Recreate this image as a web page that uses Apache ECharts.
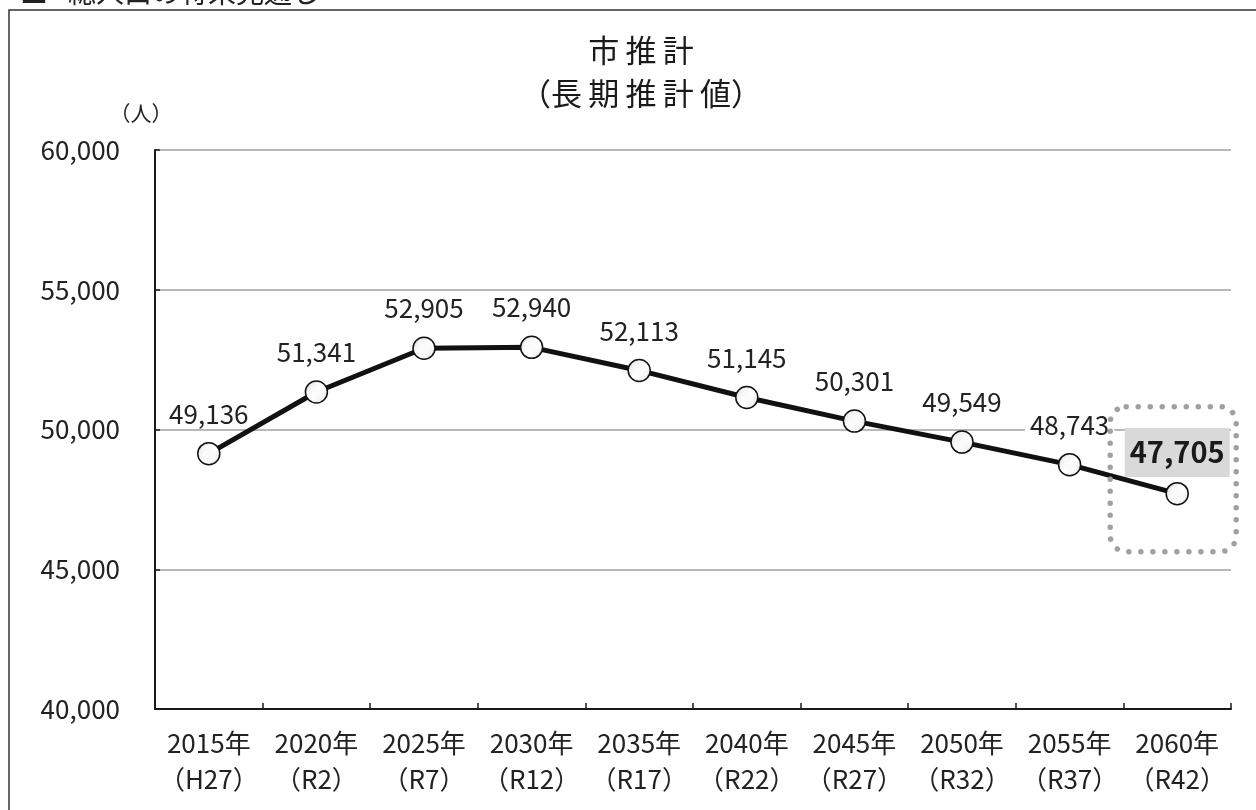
<!DOCTYPE html>
<html lang="ja">
<head>
<meta charset="UTF-8">
<title>市推計（長期推計値）</title>
<script src="https://cdn.jsdelivr.net/npm/echarts@6/dist/echarts.min.js"></script>
<style>
  html, body { margin: 0; padding: 0; background: #fff; }
  #main { width: 1256px; height: 810px; }
</style>
</head>
<body>
<div id="main"></div>
<script>
// 年次（x軸）
var years = ['2015年', '2020年', '2025年', '2030年', '2035年', '2040年', '2045年', '2050年', '2055年', '2060年'];
var eras = ['（H27）', '（R2）', '（R7）', '（R12）', '（R17）', '（R22）', '（R27）', '（R32）', '（R37）', '（R42）'];
// 総人口（人）
var population = [49136, 51341, 52905, 52940, 52113, 51145, 50301, 49549, 48743, 47705];
var yTicks = [40000, 45000, 50000, 55000, 60000];

var JP = "'Noto Sans CJK JP', sans-serif";

var categories = [];
for (var i = 0; i < years.length; i++) {
    categories.push(years[i] + '\n' + eras[i]);
}

// 点々模様のマーカー
var dot = document.createElement('canvas');
dot.width = 6; dot.height = 6;
var dc = dot.getContext('2d');
dc.fillStyle = '#fff';
dc.fillRect(0, 0, 6, 6);
dc.fillStyle = '#777';
[[1.5, 1.5], [4.5, 4.5]].forEach(function (p) {
    dc.beginPath(); dc.arc(p[0], p[1], 0.9, 0, Math.PI * 2); dc.fill();
});

var last = population.length - 1;
var seriesData = population.map(function (v, i) {
    if (i !== last) return v;
    return {
        value: v,
        label: {
            fontSize: 29,
            fontWeight: 'bold',
            color: '#1a1a1a',
            backgroundColor: '#d9d9d9',
            lineHeight: 29,
            padding: [10, 5, 10, 5],
            distance: 5
        }
    };
});

var myChart = echarts.init(document.getElementById('main'));

var option = {
    animation: false,
    title: {
        text: '市\u2009推\u2009計\n（長\u2009期\u2009推\u2009計\u2009値）',
        left: 636,
        textAlign: 'center',
        top: 24,
        textStyle: {
            fontFamily: JP,
            fontSize: 31,
            fontWeight: 'normal',
            lineHeight: 43,
            color: '#1a1a1a'
        }
    },
    grid: {
        left: 155,
        right: 25,
        top: 150,
        bottom: 101
    },
    xAxis: {
        type: 'category',
        data: categories,
        boundaryGap: true,
        axisLine: { lineStyle: { color: '#1a1a1a', width: 2 } },
        axisTick: { show: true, inside: true, length: 6, interval: 0, lineStyle: { color: '#1a1a1a', width: 1.5 } },
        axisLabel: {
            interval: 0,
            margin: 16,
            fontFamily: JP,
            fontSize: 26,
            lineHeight: 36,
            color: '#222'
        }
    },
    yAxis: {
        type: 'value',
        min: yTicks[0],
        max: yTicks[yTicks.length - 1],
        interval: 5000,
        name: '（人）',
        nameLocation: 'end',
        nameGap: 26,
        nameTextStyle: {
            fontFamily: JP,
            fontSize: 21,
            color: '#222',
            padding: [0, 28, 0, 0]
        },
        axisLine: { show: true, lineStyle: { color: '#1a1a1a', width: 2 } },
        axisTick: { show: true, inside: true, length: 5, lineStyle: { color: '#1a1a1a', width: 1.5 } },
        splitLine: { show: true, lineStyle: { color: '#a0a0a0', width: 1.5 } },
        axisLabel: {
            margin: 35,
            fontFamily: JP,
            fontSize: 26,
            color: '#222',
            formatter: function (v) { return v.toLocaleString('en-US'); }
        }
    },
    series: [{
        type: 'line',
        data: seriesData,
        symbol: 'circle',
        symbolSize: 22,
        lineStyle: { color: '#111', width: 5 },
        itemStyle: {
            color: { image: dot, repeat: 'repeat' },
            borderColor: '#111',
            borderWidth: 1.5
        },
        label: {
            show: true,
            position: 'top',
            distance: 17,
            fontFamily: JP,
            fontSize: 26,
            lineHeight: 22,
            color: '#222',
            backgroundColor: '#fff',
            padding: [0, 5],
            formatter: function (p) { return p.value.toLocaleString('en-US'); }
        },
        z: 3
    }],
    graphic: [
        {
            type: 'rect',
            shape: { x: 9, y: 10, width: 1400, height: 1000 },
            style: { fill: null, stroke: '#333', lineWidth: 1.5 },
            silent: true
        },
        {
            type: 'text',
            left: 20,
            top: -22,
            style: { text: '■', fontFamily: JP, fontSize: 28, fill: '#222' },
            silent: true
        },
        {
            type: 'text',
            left: 68,
            top: -22,
            style: { text: '総人口の将来見通し', fontFamily: JP, fontSize: 28, fill: '#222' },
            silent: true
        }
    ]
};

myChart.setOption(option);

// 2060年の値を点線の角丸枠で囲む（位置は軸から換算）
var p = myChart.convertToPixel({ seriesIndex: 0 }, [last, population[last]]);
myChart.setOption({
    graphic: option.graphic.concat([{
        type: 'rect',
        shape: { x: p[0] - 67, y: p[1] - 87, width: 126, height: 145, r: 16 },
        style: { fill: null, stroke: '#a0a0a0', lineWidth: 5.5, lineDash: [0.01, 12], lineCap: 'round' },
        silent: true,
        z: 10
    }])
});
</script>
</body>
</html>
